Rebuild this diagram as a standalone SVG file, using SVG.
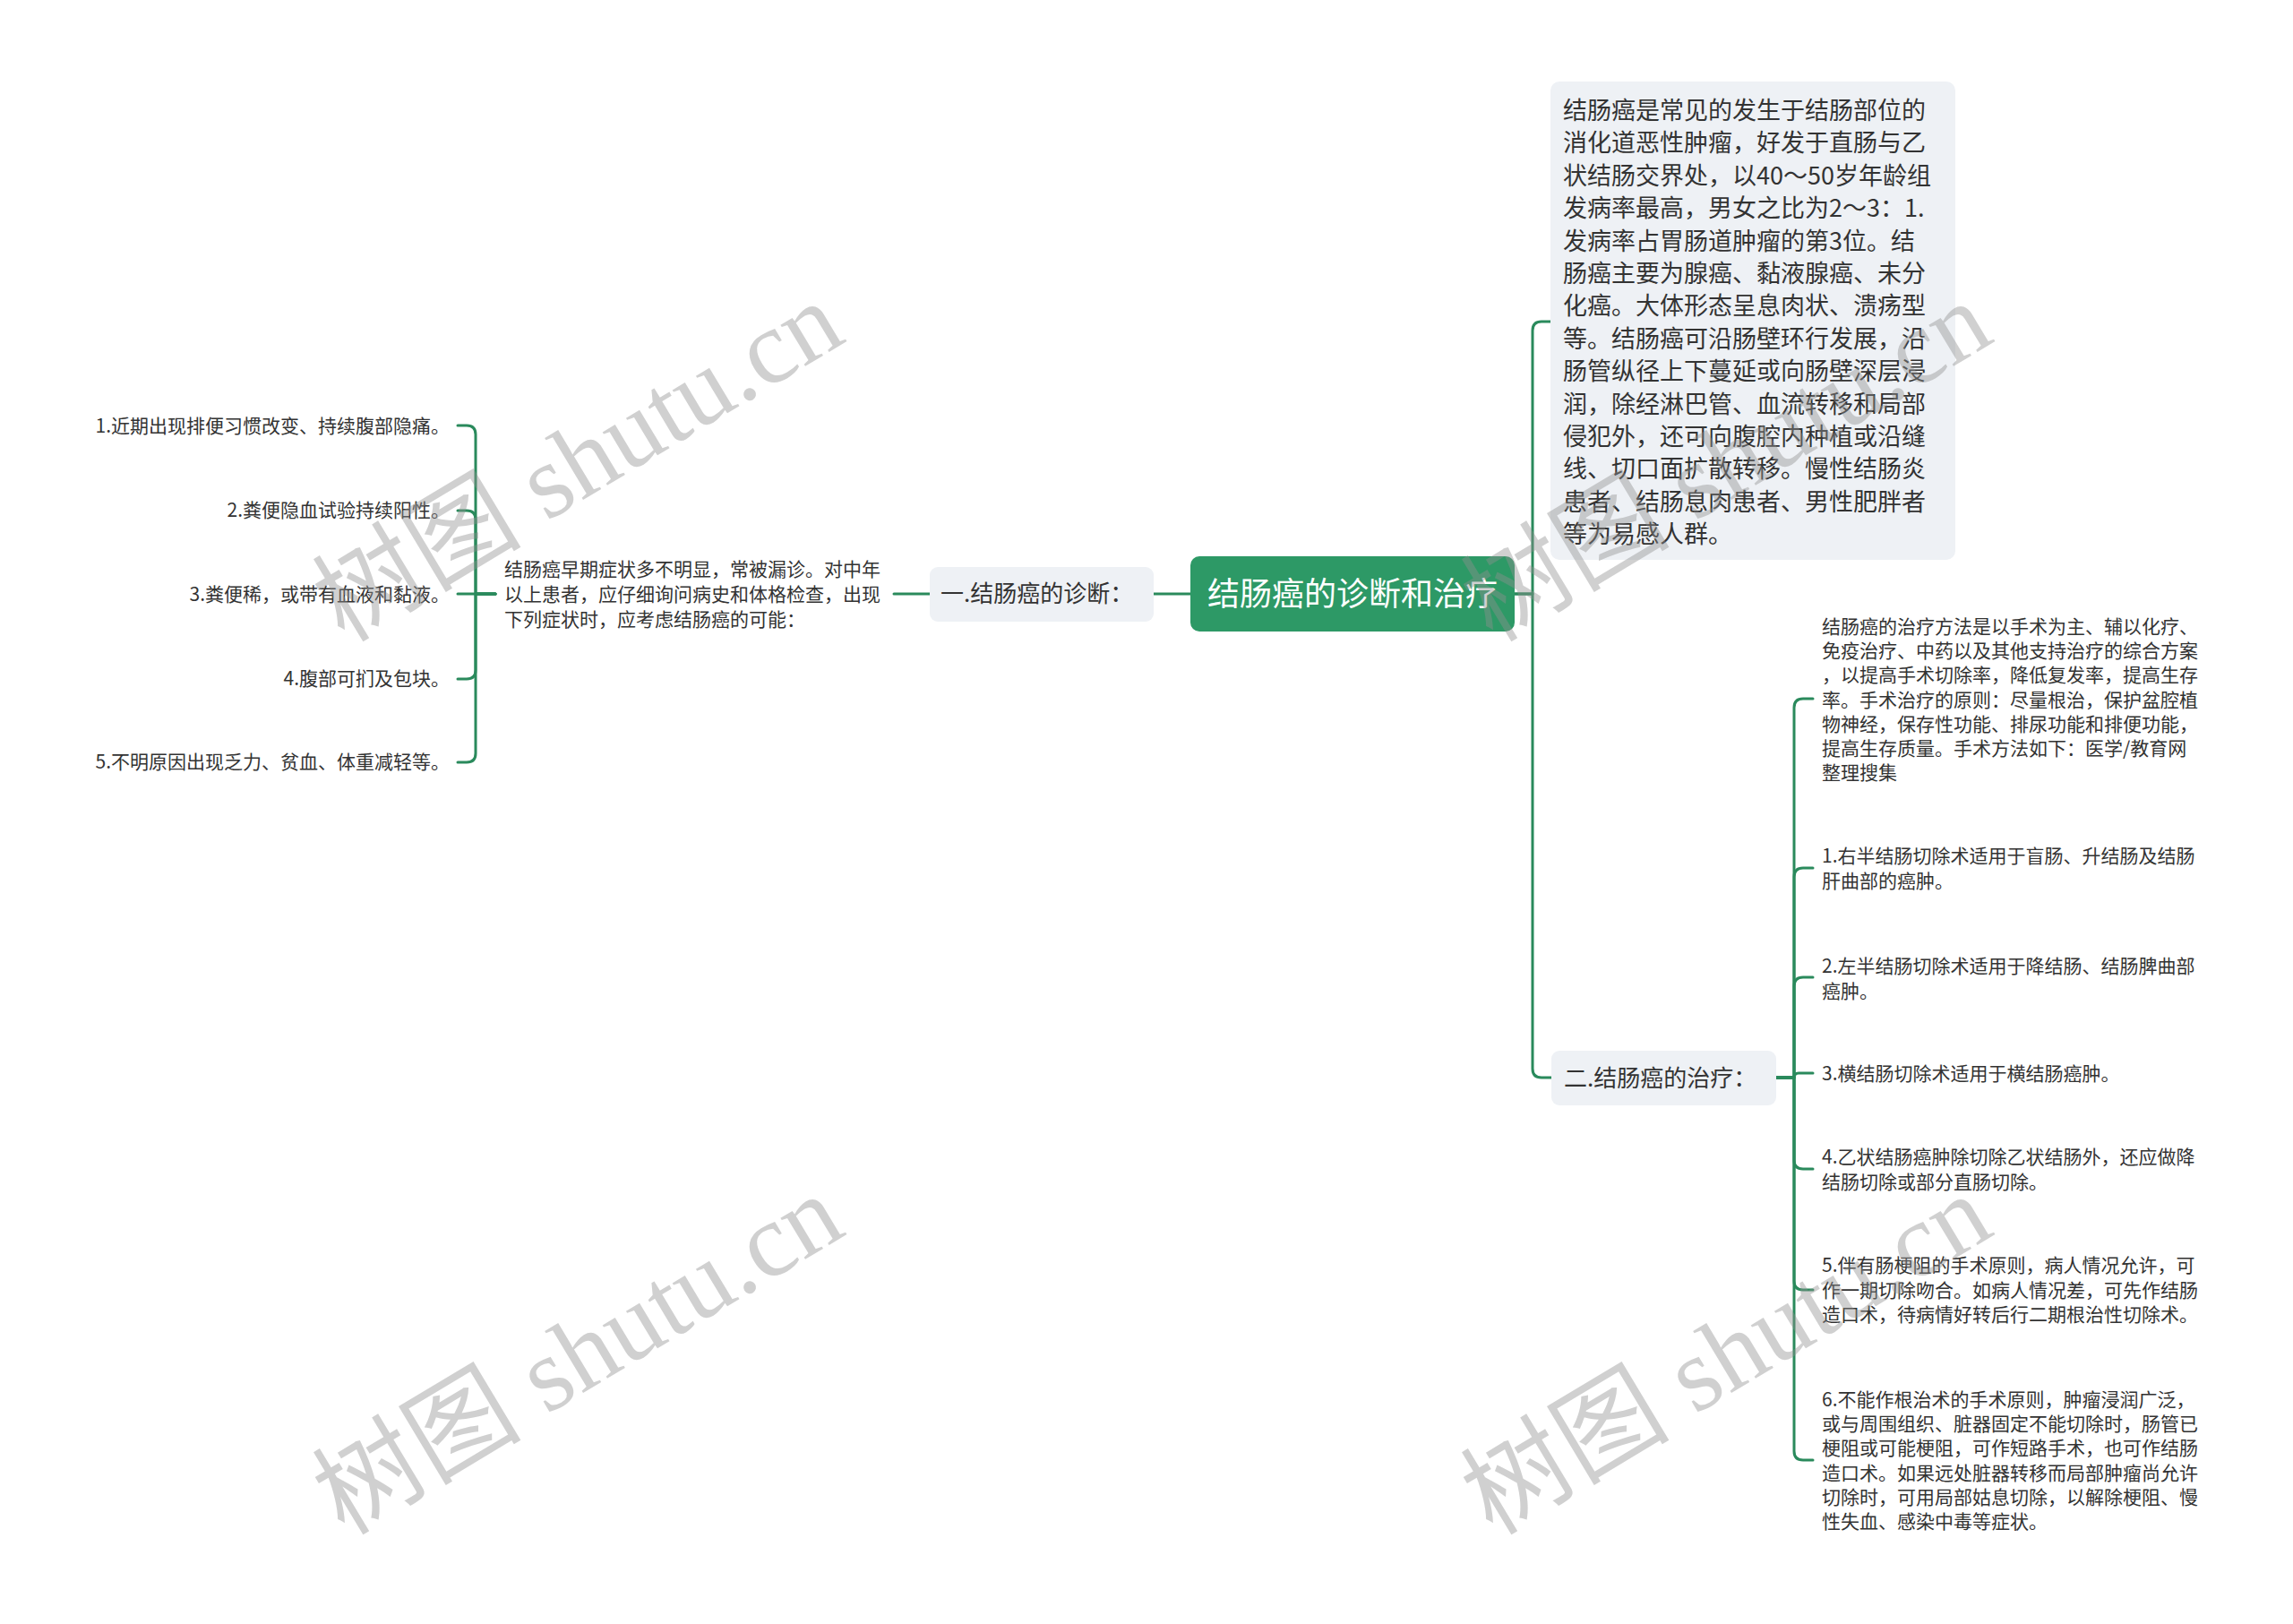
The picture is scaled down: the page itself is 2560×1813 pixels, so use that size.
<svg xmlns="http://www.w3.org/2000/svg" width="2560" height="1813" viewBox="0 0 2560 1813">
<style>
.ln{fill:none;stroke:#2a8a5c;stroke-width:3;stroke-linecap:round;stroke-linejoin:round}
.t{font-family:"Noto Sans CJK SC","Noto Sans",sans-serif;fill:#333333}
.s{font-size:21px}
.box{fill:#eef1f5}
.wm{font-family:"Liberation Serif","Noto Sans CJK SC",serif;font-size:117px;fill:#8f8f8f;fill-opacity:0.42}
</style>
<rect width="2560" height="1813" fill="#ffffff"/>
<g id="connectors">
<path class="ln" d="M1329 663 H1288"/>
<path class="ln" d="M1038 663 H998"/>
<path class="ln" d="M553 663 H531 V485 Q531 475 521 475 H511"/>
<path class="ln" d="M553 663 H531 V580 Q531 570 521 570 H511"/>
<path class="ln" d="M553 663 H511"/>
<path class="ln" d="M553 663 H531 V748 Q531 758 521 758 H511"/>
<path class="ln" d="M553 663 H531 V841 Q531 851 521 851 H511"/>
<path class="ln" d="M1691 663 H1711 V369 Q1711 359 1721 359 H1731"/>
<path class="ln" d="M1691 663 H1711 V1193 Q1711 1203 1721 1203 H1732"/>
<path class="ln" d="M1983 1203 H2003 V790 Q2003 780 2013 780 H2024"/>
<path class="ln" d="M1983 1203 H2003 V979 Q2003 969 2013 969 H2024"/>
<path class="ln" d="M1983 1203 H2003 V1101 Q2003 1091 2013 1091 H2024"/>
<path class="ln" d="M1983 1203 H2003 Q2003 1198 2008 1198 H2024"/>
<path class="ln" d="M1983 1203 H2003 V1295 Q2003 1305 2013 1305 H2024"/>
<path class="ln" d="M1983 1203 H2003 V1430 Q2003 1440 2013 1440 H2024"/>
<path class="ln" d="M1983 1203 H2003 V1620 Q2003 1630 2013 1630 H2024"/>
</g>
<g id="root">
<rect x="1329" y="621" width="362" height="84" rx="10" fill="#2d9966"/>
<text x="1510" y="676" text-anchor="middle" class="t" style="font-size:36px;fill:#ffffff">结肠癌的诊断和治疗</text>
</g>
<g id="diag">
<rect class="box" x="1038" y="633" width="250" height="61" rx="9"/>
<text x="1050" y="672" class="t" style="font-size:26px">一.结肠癌的诊断：</text>
</g>
<g id="diag-desc">
<text class="t s" x="563" y="643">结肠癌早期症状多不明显，常被漏诊。对中年<tspan x="563" dy="28">以上患者，应仔细询问病史和体格检查，出现</tspan><tspan x="563" dy="28">下列症状时，应考虑结肠癌的可能：</tspan></text>
</g>
<g id="sym1"><text class="t s" x="502" y="483" text-anchor="end">1.近期出现排便习惯改变、持续腹部隐痛。</text></g>
<g id="sym2"><text class="t s" x="502" y="577" text-anchor="end">2.粪便隐血试验持续阳性。</text></g>
<g id="sym3"><text class="t s" x="502" y="671" text-anchor="end">3.粪便稀，或带有血液和黏液。</text></g>
<g id="sym4"><text class="t s" x="502" y="765" text-anchor="end">4.腹部可扪及包块。</text></g>
<g id="sym5"><text class="t s" x="502" y="858" text-anchor="end">5.不明原因出现乏力、贫血、体重减轻等。</text></g>
<g id="intro">
<rect class="box" x="1731" y="91" width="452" height="534" rx="10"/>
<text class="t" style="font-size:27px" x="1745" y="133">结肠癌是常见的发生于结肠部位的<tspan x="1745" dy="36.4">消化道恶性肿瘤，好发于直肠与乙</tspan><tspan x="1745" dy="36.4">状结肠交界处，以40～50岁年龄组</tspan><tspan x="1745" dy="36.4">发病率最高，男女之比为2～3：1.</tspan><tspan x="1745" dy="36.4">发病率占胃肠道肿瘤的第3位。结</tspan><tspan x="1745" dy="36.4">肠癌主要为腺癌、黏液腺癌、未分</tspan><tspan x="1745" dy="36.4">化癌。大体形态呈息肉状、溃疡型</tspan><tspan x="1745" dy="36.4">等。结肠癌可沿肠壁环行发展，沿</tspan><tspan x="1745" dy="36.4">肠管纵径上下蔓延或向肠壁深层浸</tspan><tspan x="1745" dy="36.4">润，除经淋巴管、血流转移和局部</tspan><tspan x="1745" dy="36.4">侵犯外，还可向腹腔内种植或沿缝</tspan><tspan x="1745" dy="36.4">线、切口面扩散转移。慢性结肠炎</tspan><tspan x="1745" dy="36.4">患者、结肠息肉患者、男性肥胖者</tspan><tspan x="1745" dy="36.4">等为易感人群。</tspan></text>
</g>
<g id="treat">
<rect class="box" x="1732" y="1173" width="251" height="61" rx="9"/>
<text x="1746" y="1213" class="t" style="font-size:26px">二.结肠癌的治疗：</text>
</g>
<g id="treat-desc">
<text class="t s" x="2034" y="707">结肠癌的治疗方法是以手术为主、辅以化疗、<tspan x="2034" dy="27.2">免疫治疗、中药以及其他支持治疗的综合方案</tspan><tspan x="2034" dy="27.2">，以提高手术切除率，降低复发率，提高生存</tspan><tspan x="2034" dy="27.2">率。手术治疗的原则：尽量根治，保护盆腔植</tspan><tspan x="2034" dy="27.2">物神经，保存性功能、排尿功能和排便功能，</tspan><tspan x="2034" dy="27.2">提高生存质量。手术方法如下：医学/教育网</tspan><tspan x="2034" dy="27.2">整理搜集</tspan></text>
</g>
<g id="m1"><text class="t s" x="2034" y="963">1.右半结肠切除术适用于盲肠、升结肠及结肠<tspan x="2034" dy="27.5">肝曲部的癌肿。</tspan></text></g>
<g id="m2"><text class="t s" x="2034" y="1086">2.左半结肠切除术适用于降结肠、结肠脾曲部<tspan x="2034" dy="27.5">癌肿。</tspan></text></g>
<g id="m3"><text class="t s" x="2034" y="1206">3.横结肠切除术适用于横结肠癌肿。</text></g>
<g id="m4"><text class="t s" x="2034" y="1299">4.乙状结肠癌肿除切除乙状结肠外，还应做降<tspan x="2034" dy="27.5">结肠切除或部分直肠切除。</tspan></text></g>
<g id="m5"><text class="t s" x="2034" y="1420">5.伴有肠梗阻的手术原则，病人情况允许，可<tspan x="2034" dy="27.5">作一期切除吻合。如病人情况差，可先作结肠</tspan><tspan x="2034" dy="27.5">造口术，待病情好转后行二期根治性切除术。</tspan></text></g>
<g id="m6"><text class="t s" x="2034" y="1570">6.不能作根治术的手术原则，肿瘤浸润广泛，<tspan x="2034" dy="27.2">或与周围组织、脏器固定不能切除时，肠管已</tspan><tspan x="2034" dy="27.2">梗阻或可能梗阻，可作短路手术，也可作结肠</tspan><tspan x="2034" dy="27.2">造口术。如果远处脏器转移而局部肿瘤尚允许</tspan><tspan x="2034" dy="27.2">切除时，可用局部姑息切除，以解除梗阻、慢</tspan><tspan x="2034" dy="27.2">性失血、感染中毒等症状。</tspan></text></g>
<g id="watermarks">
<text class="wm" text-anchor="middle" transform="translate(645 515) rotate(-31)" y="40">树图 shutu.cn</text>
<text class="wm" text-anchor="middle" transform="translate(645 1512) rotate(-31)" y="40">树图 shutu.cn</text>
<text class="wm" text-anchor="middle" transform="translate(1927 515) rotate(-31)" y="40">树图 shutu.cn</text>
<text class="wm" text-anchor="middle" transform="translate(1927 1512) rotate(-31)" y="40">树图 shutu.cn</text>
</g>
</svg>
